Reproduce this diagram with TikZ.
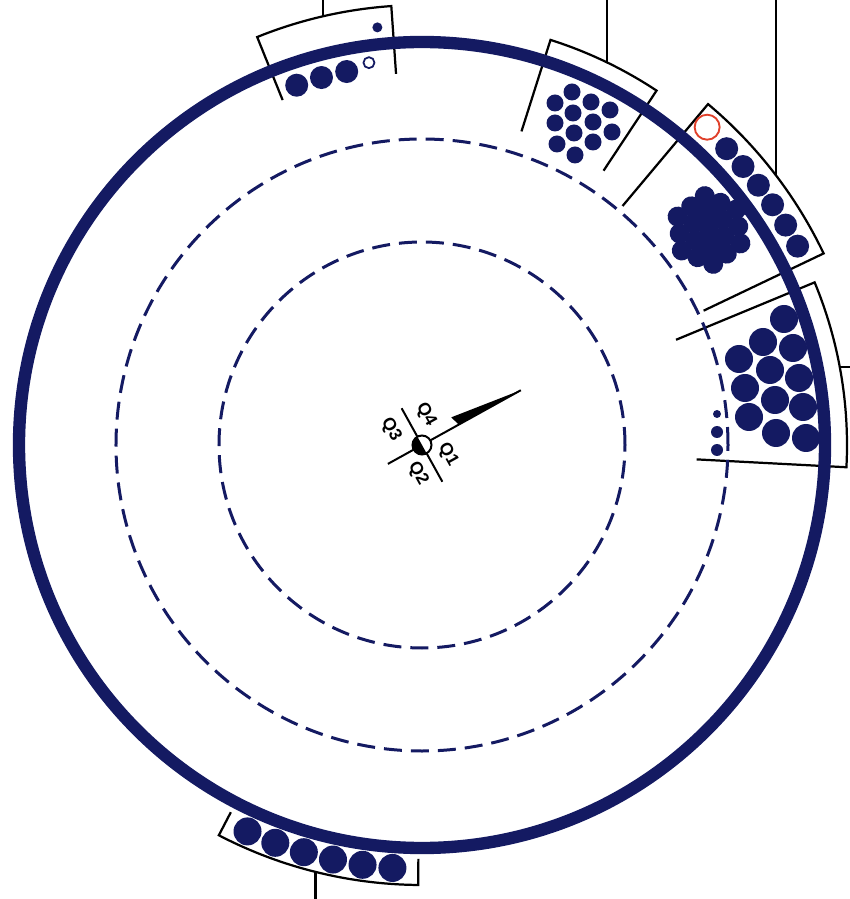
\documentclass[tikz,border=0pt]{standalone}
\usepackage{fontspec}
\setmainfont{Liberation Sans}
\usetikzlibrary{calc}
\definecolor{ringnavy}{HTML}{141A62}
\definecolor{tagred}{HTML}{E0402A}

\begin{document}
\begin{tikzpicture}[x=0.03cm,y=0.03cm,
  boxline/.style={black,line width=1.9pt},
  ball/.style={fill=ringnavy},
  orbit/.style={ringnavy,line width=0.09cm,dash pattern=on 0.54cm off 0.27cm},
  qlabel/.style={font=\fontsize{15}{15}\selectfont\bfseries,rotate=-61,inner sep=0pt}]
\useasboundingbox (-422,-454) rectangle (428,445);
\coordinate (topedge) at (0,445);
\coordinate (rightedge) at (428,0);
\coordinate (bottomedge) at (0,-454);
\draw[boxline] (112:372) -- (112:440) arc[start angle=112,end angle=94,radius=440] -- (94:372);
\draw[boxline] (72.4:329) -- (72.4:425) arc[start angle=72.4,end angle=56.5,radius=425] -- (56.5:329);
\draw[boxline] (50:312) -- (50:445) arc[start angle=50,end angle=25.5,radius=445] -- (25.5:312);
\draw[boxline] (22.5:275) -- (22.5:425) arc[start angle=22.5,end angle=-3,radius=425] -- (-3:275);
\draw[boxline] (242.5:414) -- (242.5:440) arc[start angle=242.5,end angle=269.5,radius=440] -- (269.5:414);
\coordinate (lead1) at (103:440);
\coordinate (lead2) at (64.2:425);
\coordinate (lead3) at (37.3:445);
\coordinate (lead4) at (10.6:425);
\coordinate (lead5) at (256:440);
\draw[boxline] (lead1) -- (lead1 |- topedge);
\draw[boxline] (lead2) -- (lead2 |- topedge);
\draw[boxline] (lead3) -- (lead3 |- topedge);
\draw[boxline] (lead4) -- (lead4 -| rightedge);
\draw[boxline] (lead5) -- (lead5 |- bottomedge);
\draw[orbit] (0,0) circle[radius=306];
\draw[orbit] (0,0) circle[radius=203];
\draw[ringnavy,line width=0.37cm] (0,0) circle[radius=403];
% top box
\foreach \a in {109.2,105.3,101.4}
  \fill[ball] (\a:381) circle[radius=11.5];
\draw[ringnavy,fill=white,line width=1.5pt] (97.9:386) circle[radius=5.5];
\fill[ball] (96.1:420) circle[radius=5];
% hex pack
\foreach \p in {(150,353),(133,342),(169,343),(151,332),(188,335),(133,322),(171,323),(152,312),(190,313),(135,301),(171,303),(153,290)}
  \fill[ball] \p circle[radius=8.5];
% cluster and row
\begin{scope}[shift={(287,215)},rotate=37]
\foreach \j/\n in {-2/3,-1/4,0/5,1/4,2/3}
  \foreach \i in {1,...,\n}
    \fill[ball] ({(\i-(\n+1)/2)*17},{\j*14.8}) circle[radius=10];
\end{scope}
\foreach \k in {0,...,5}
  \fill[ball] ({44.2-3.26*\k}:425) circle[radius=11.5];
\draw[tagred,fill=white,line width=1.6pt] (48.1:427) circle[radius=12.5];
% big balls
\foreach \p in {(362,126),(341,103),(371,97),(317,86),(348,75),(377,67),(323,57),(353,45),(381,38),(327,28),(354,12),(384,7)}
  \fill[ball] \p circle[radius=14];
\fill[ball] (295,31) circle[radius=4];
\fill[ball] (295,13) circle[radius=6];
\fill[ball] (295,-5) circle[radius=6];
% bottom box
\foreach \k in {0,...,5}
  \fill[ball] ({245.7+4.06*\k}:424) circle[radius=14];
% hub
\draw[line width=1.7pt] (119:42) -- (299:42);
\draw[line width=1.7pt] (209:39) -- (29:113);
\fill (29:42) -- ($(29:39)+(119:10)$) -- (29:113) -- cycle;
\draw[line width=1.7pt,fill=white] (0,0) circle[radius=9.5];
\fill (119:9.5) arc[start angle=119,end angle=299,radius=9.5] -- cycle;
\node[qlabel] (q4) at (4,30) {Q4};
\node[qlabel] (q3) at (-31,15) {Q3};
\node[qlabel] (q1) at (26,-10) {Q1};
\node[qlabel] (q2) at (-4,-29) {Q2};
\end{tikzpicture}
\end{document}
